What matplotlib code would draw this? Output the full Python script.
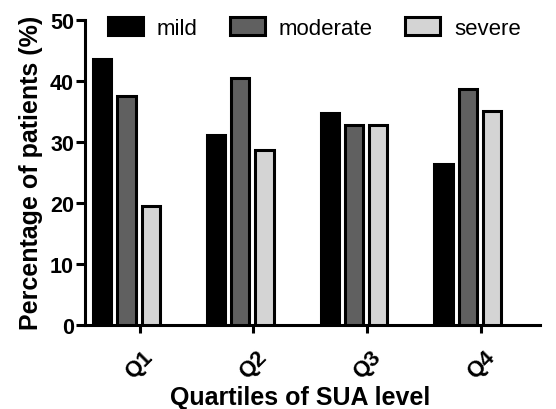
import numpy as np
import matplotlib.pyplot as plt
from matplotlib.transforms import ScaledTranslation

plt.rcParams['font.family'] = ['Liberation Sans', 'DejaVu Sans']

quartiles = ['Q1', 'Q2', 'Q3', 'Q4']
series = ['mild', 'moderate', 'severe']
mild = [43.5, 31.1, 34.7, 26.4]
moderate = [37.5, 40.4, 32.8, 38.7]
severe = [19.4, 28.7, 32.8, 35.0]
colors = ['#000000', '#606060', '#d4d4d4']

fig = plt.figure(figsize=(5.56, 4.10), dpi=100)
ax = fig.add_axes([0.153, 0.205, 0.818, 0.745])

x = np.arange(len(quartiles))
width = 0.16
pitch = 0.213
shift = -0.115  # bars sit a little left of the tick, as in the original
for i, (vals, c, name) in enumerate(zip([mild, moderate, severe], colors, series)):
    ax.bar(x + shift + (i - 1) * pitch, vals, width, color=c, edgecolor='black',
           linewidth=2.2, label=name, zorder=3)

ax.set_xlim(-0.48, 3.52)
ax.set_ylim(0, 50)
ax.set_yticks([0, 10, 20, 30, 40, 50])
ax.set_xticks(x)
ax.set_xticklabels(quartiles, rotation=45, ha='center', va='top', fontweight='bold', fontsize=16)
offset = ScaledTranslation(-8 / 100, 0, fig.dpi_scale_trans)
for lab in ax.get_xticklabels():
    lab.set_transform(lab.get_transform() + offset)
for lab in ax.get_yticklabels():
    lab.set_fontweight('bold')
    lab.set_fontsize(15.5)

for s in ['top', 'right']:
    ax.spines[s].set_visible(False)
for s in ['left', 'bottom']:
    ax.spines[s].set_linewidth(2.2)
ax.tick_params(axis='y', width=2.2, length=6.5, pad=1.5)
ax.tick_params(axis='x', width=2.2, length=6, pad=9)

ax.set_xlabel('Quartiles of SUA level', fontsize=18, fontweight='bold', va='top')
ax.xaxis.set_label_coords(0.473, -0.195)
ax.set_ylabel('Percentage of patients (%)', fontsize=18, fontweight='bold', labelpad=5)

fig.legend(loc='upper left', bbox_to_anchor=(0.158, 1.005), ncol=3, frameon=False,
           fontsize=16, handlelength=1.58, handleheight=0.86, columnspacing=1.44,
           handletextpad=0.63)

fig.savefig('out.png', dpi=100)
